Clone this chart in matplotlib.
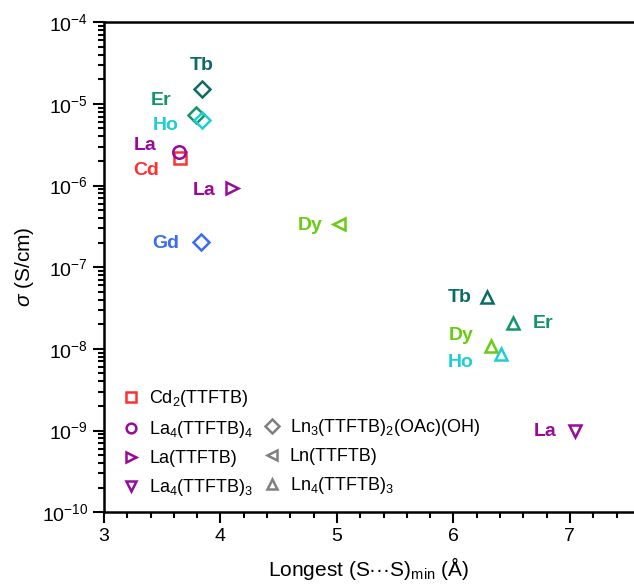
import numpy as np
import matplotlib.pyplot as plt
from matplotlib.lines import Line2D

plt.rcParams['font.family'] = ['Liberation Sans', 'DejaVu Sans']
plt.rcParams['mathtext.fontset'] = 'custom'
plt.rcParams['mathtext.rm'] = 'Liberation Sans'
plt.rcParams['mathtext.it'] = 'Liberation Sans:italic'

# Цвета элементов
colors = {
    'Cd': '#ff3030',
    'La': '#9a0a9a',
    'Tb': '#0d6b66',
    'Er': '#13956a',
    'Ho': '#1dcfd2',
    'Gd': '#3a6cf5',
    'Dy': '#6acc10',
}

# Данные: (элемент, x, sigma)
cd2_el = ['Cd']
cd2_x = [3.65]
cd2_y = [2.15e-6]

la4_4_el = ['La']
la4_4_x = [3.64]
la4_4_y = [2.55e-6]

ln3_el = ['Tb', 'Er', 'Ho', 'Gd']
ln3_x = [3.84, 3.79, 3.84, 3.83]
ln3_y = [1.5e-5, 7.4e-6, 6.4e-6, 2.05e-7]

la1_el = ['La']
la1_x = [4.10]
la1_y = [9.4e-7]

ln1_el = ['Dy']
ln1_x = [5.02]
ln1_y = [3.4e-7]

ln4_el = ['Tb', 'Er', 'Dy', 'Ho']
ln4_x = [6.29, 6.51, 6.32, 6.41]
ln4_y = [4.3e-8, 2.1e-8, 1.07e-8, 8.6e-9]

la4_3_el = ['La']
la4_3_x = [7.04]
la4_3_y = [1.0e-9]

# Смещения подписей (в пунктах)
offsets = {
    ('s', 0): (-24, -9),
    ('o', 0): (-24, 5),
    ('D', 0): (0, 17),
    ('D', 1): (-25, 10),
    ('D', 2): (-26, -4),
    ('D', 3): (-25, -1),
    ('>', 0): (-20, -2),
    ('<', 0): (-21, -1),
    ('^', 0): (-20, 0),
    ('^', 1): (22, -1),
    ('^', 2): (-21, 8),
    ('^', 3): (-29, -6),
    ('v', 0): (-21, -1),
}

series = [
    ('s', 8, cd2_el, cd2_x, cd2_y),
    ('o', 9, la4_4_el, la4_4_x, la4_4_y),
    ('D', 8, ln3_el, ln3_x, ln3_y),
    ('>', 9, la1_el, la1_x, la1_y),
    ('<', 9, ln1_el, ln1_x, ln1_y),
    ('^', 9, ln4_el, ln4_x, ln4_y),
    ('v', 9, la4_3_el, la4_3_x, la4_3_y),
]

fig = plt.figure(figsize=(6.34, 5.84), dpi=100)
ax = fig.add_axes([0.164, 0.123, 0.836, 0.839])

for marker, ms, els, xs, ys in series:
    for i, (el, x, y) in enumerate(zip(els, xs, ys)):
        ax.plot(x, y, marker=marker, ms=ms, mfc='none', mec=colors[el], mew=1.8,
                linestyle='none')
        ax.annotate(el, (x, y), xytext=offsets[(marker, i)], textcoords='offset points',
                    ha='center', va='center', fontsize=14, fontweight='bold',
                    color=colors[el])

ax.set_yscale('log')
ax.set_xlim(3, 7.55)
ax.set_ylim(1e-10, 1e-4)
ax.set_xticks([3, 4, 5, 6, 7])
ax.set_xticks(np.arange(3, 7.6, 0.2), minor=True)
ax.tick_params(which='both', direction='out', width=1.5, labelsize=14)
ax.tick_params(which='major', length=8)
ax.tick_params(which='minor', length=4)
for s in ['left', 'bottom', 'top']:
    ax.spines[s].set_linewidth(1.8)
ax.spines['right'].set_visible(False)

ax.set_xlabel('Longest (S\u00b7\u00b7\u00b7S)$_{\\mathrm{min}}$ (Å)', fontsize=15, labelpad=7)
ax.set_ylabel('$\\it{\\sigma}$ (S/cm)', fontsize=15)

# Легенда
gray = '#808080'
def h(m, c=gray):
    return Line2D([], [], marker=m, ms=7, mfc='none', mec=c, mew=1.8, linestyle='none')

handles = [h('s', colors['Cd']), h('o', colors['La']), h('>', colors['La']), h('v', colors['La']),
           Line2D([], [], linestyle='none'), h('D'), h('<'), h('^')]
labels = ['Cd$_2$(TTFTB)', 'La$_4$(TTFTB)$_4$', 'La(TTFTB)', 'La$_4$(TTFTB)$_3$',
          '', 'Ln$_3$(TTFTB)$_2$(OAc)(OH)', 'Ln(TTFTB)', 'Ln$_4$(TTFTB)$_3$']
ax.legend(handles, labels, ncol=2, loc='upper left', bbox_to_anchor=(0.0, 0.286),
          frameon=False, fontsize=13, handletextpad=0.4, columnspacing=0.4,
          labelspacing=0.55, handlelength=1.2)

fig.savefig('out.png', dpi=100)
